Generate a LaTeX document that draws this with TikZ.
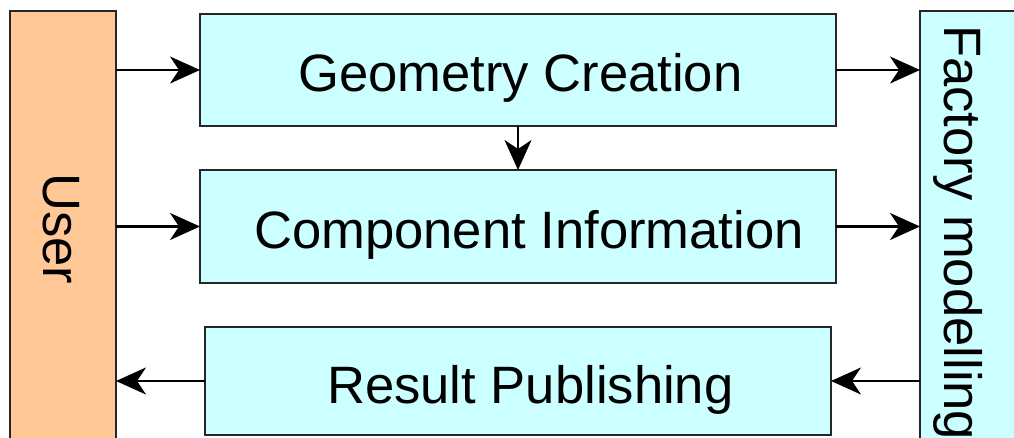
\documentclass[tikz,border=0pt]{standalone}
\usepackage{fontspec}
\setmainfont{Liberation Sans}
\usetikzlibrary{arrows.meta}
\definecolor{peach}{RGB}{255,200,150}
\definecolor{lcyan}{RGB}{204,255,255}
\tikzset{
  box/.style={draw=black!85, line width=2.2pt, inner sep=0pt, outer sep=0pt},
  cbox/.style={box, fill=lcyan},
  obox/.style={box, fill=peach},
  txt/.style={inner sep=0pt, font=\fontsize{52.6}{62}\selectfont},
  arr/.style={line width=2.2pt, draw=black, -{Stealth[length=30pt,width=27pt,inset=9pt]}}
}
\begin{document}
\begin{tikzpicture}[x=1pt,y=-1pt]
\useasboundingbox (0,0) rectangle (1014,438);
\clip (0,0) rectangle (1014,438);
\fill[white] (0,0) rectangle (1014,438);
% boxes
\node[obox, minimum width=106pt, minimum height=440pt] (user) at (63,231) {};
\node[cbox, minimum width=110pt, minimum height=440pt] (fm) at (975,231) {};
\node[cbox, minimum width=636pt, minimum height=112pt] (gc) at (518,70) {};
\node[cbox, minimum width=636pt, minimum height=113pt] (ci) at (518,226.5) {};
\node[cbox, minimum width=626pt, minimum height=108pt] (rp) at (518,381) {};
% texts
\node[txt, anchor=base west] (gct) at (298,92) {Geometry Creation};
\node[txt, anchor=base west] (cit) at (254,248.5) {Component Information};
\node[txt, anchor=base west] (rpt) at (327,403) {Result Publishing};
\node[txt, rotate=-90] (usert) at (61.5,229) {User};
\node[txt, rotate=-90, anchor=base west] (fmt) at (944,25) {Factory modelling};
% connectors
\draw[arr] (user.east |- gc.west) -- (gc.west);
\draw[arr] (user.east |- ci.west) -- (ci.west);
\draw[arr] (gc.east) -- (gc.east -| fm.west);
\draw[arr] (ci.east) -- (ci.east -| fm.west);
\draw[arr] (gc.south) -- (ci.north);
\draw[arr] (fm.west |- rp.east) -- (rp.east);
\draw[arr] (rp.west) -- (rp.west -| user.east);
\end{tikzpicture}
\end{document}
